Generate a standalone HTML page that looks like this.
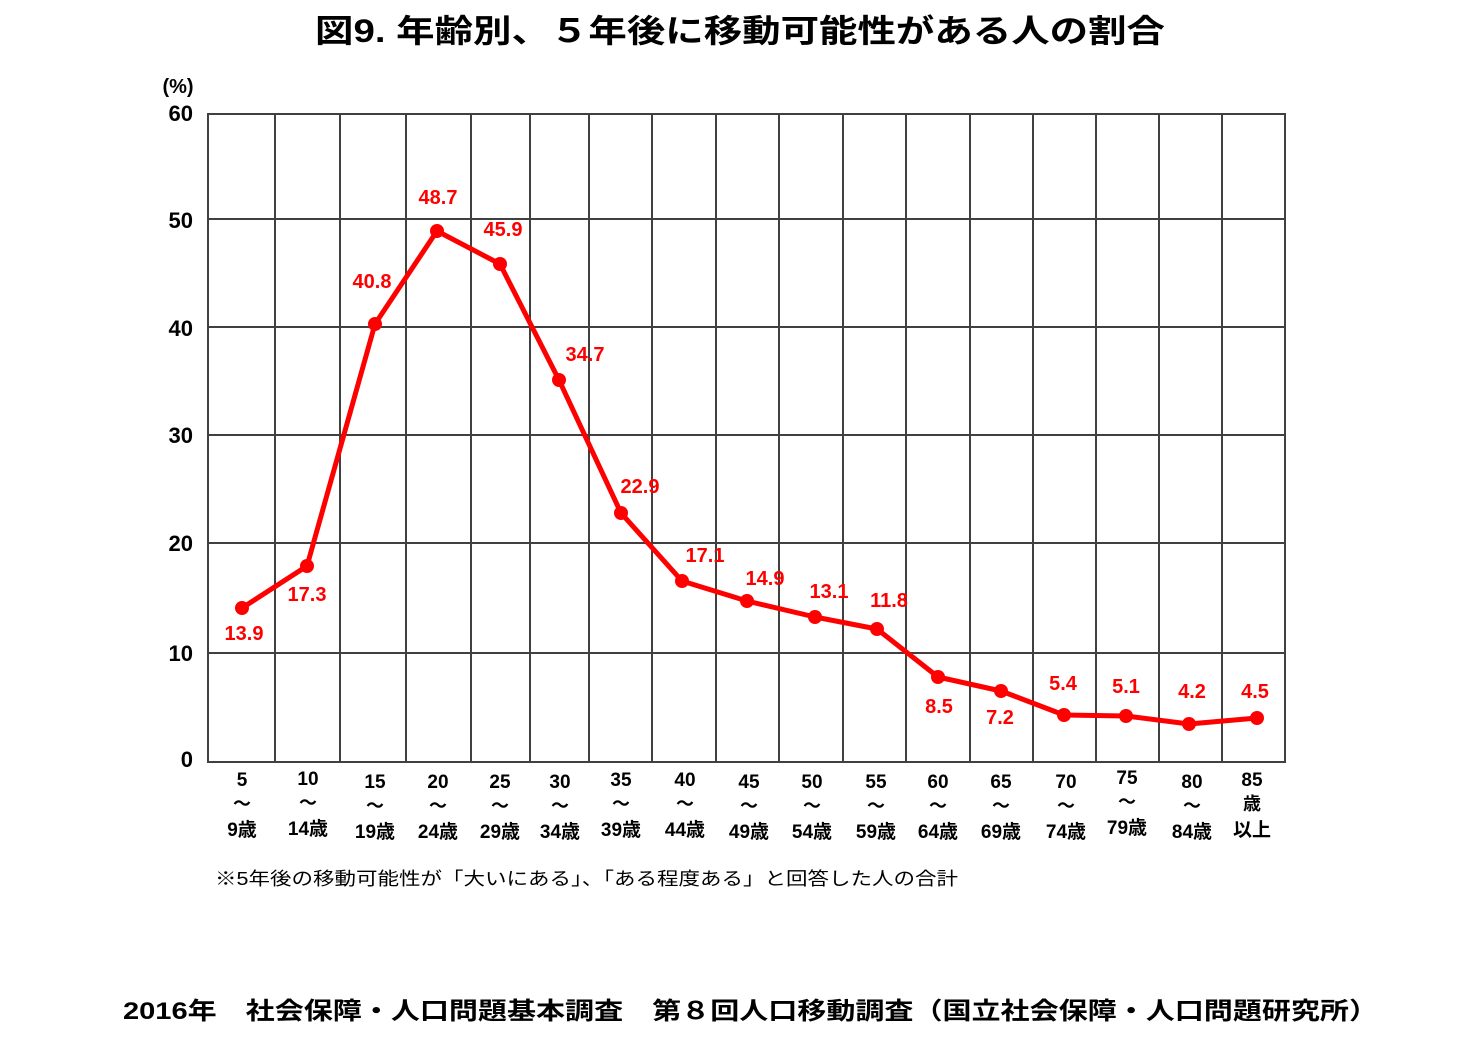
<!DOCTYPE html>
<html><head><meta charset="utf-8"><style>
body{margin:0;background:#fff;}
svg text{font-family:"Liberation Sans","Noto Sans CJK JP",sans-serif;font-weight:bold;}
</style></head><body>
<svg width="1483" height="1049" xmlns="http://www.w3.org/2000/svg">
<text x="315" y="42" font-size="32" textLength="850" lengthAdjust="spacingAndGlyphs" fill="#000">図9.  年齢別、５年後に移動可能性がある人の割合</text>
<text x="178" y="93" font-size="20" text-anchor="middle">(%)</text>
<g stroke="#404040" stroke-width="2" fill="none">
<rect x="208" y="114" width="1077" height="648"/>
<line x1="208" y1="219" x2="1285" y2="219"/>
<line x1="208" y1="327" x2="1285" y2="327"/>
<line x1="208" y1="435" x2="1285" y2="435"/>
<line x1="208" y1="543" x2="1285" y2="543"/>
<line x1="208" y1="653" x2="1285" y2="653"/>
<path d="M275 114V762M340 114V762M406 114V762M471 114V762M530 114V762M589 114V762M652 114V762M716 114V762M779 114V762M843 114V762M906 114V762M970 114V762M1033 114V762M1096 114V762M1159 114V762M1222 114V762"/>
</g>
<g font-size="22" text-anchor="end">
<text x="193" y="121">60</text><text x="193" y="228">50</text><text x="193" y="336">40</text>
<text x="193" y="443">30</text><text x="193" y="551">20</text><text x="193" y="661">10</text><text x="193" y="767">0</text>
</g>
<polyline fill="none" stroke="#f00" stroke-width="5" stroke-linejoin="round" points="242,608 307,566 375,324 437,231 500,264 559,380 621,513 682,581 747,601 815,617 877,629 938,677 1001,691 1064,715 1126,716 1189,724 1257,718"/>
<g fill="#f00">
<circle cx="242" cy="608" r="7"/><circle cx="307" cy="566" r="7"/><circle cx="375" cy="324" r="7"/><circle cx="437" cy="231" r="7"/><circle cx="500" cy="264" r="7"/><circle cx="559" cy="380" r="7"/><circle cx="621" cy="513" r="7"/><circle cx="682" cy="581" r="7"/><circle cx="747" cy="601" r="7"/><circle cx="815" cy="617" r="7"/><circle cx="877" cy="629" r="7"/><circle cx="938" cy="677" r="7"/><circle cx="1001" cy="691" r="7"/><circle cx="1064" cy="715" r="7"/><circle cx="1126" cy="716" r="7"/><circle cx="1189" cy="724" r="7"/><circle cx="1257" cy="718" r="7"/>
</g>
<g font-size="20" fill="#f00" text-anchor="middle">
<text x="244" y="640">13.9</text><text x="307" y="601">17.3</text><text x="372" y="288">40.8</text><text x="438" y="204">48.7</text><text x="503" y="236">45.9</text><text x="585" y="361">34.7</text><text x="640" y="493">22.9</text><text x="705" y="562">17.1</text><text x="765" y="585">14.9</text><text x="829" y="598">13.1</text><text x="889" y="607">11.8</text><text x="939" y="713">8.5</text><text x="1000" y="724">7.2</text><text x="1063" y="690">5.4</text><text x="1126" y="693">5.1</text><text x="1192" y="698">4.2</text><text x="1255" y="698">4.5</text>
</g>
<g font-size="19" text-anchor="middle" fill="#000">
<text x="242" y="786">5</text><text x="308" y="785">10</text><text x="375" y="788">15</text><text x="438" y="788">20</text><text x="500" y="788">25</text><text x="560" y="788">30</text><text x="621" y="786">35</text><text x="685" y="786">40</text><text x="749" y="788">45</text><text x="812" y="788">50</text><text x="876" y="788">55</text><text x="938" y="788">60</text><text x="1001" y="788">65</text><text x="1066" y="788">70</text><text x="1127" y="784">75</text><text x="1192" y="788">80</text><text x="1252" y="786">85</text>
<g font-size="18">
<text x="242" y="810">～</text><text x="308" y="809">～</text><text x="375" y="812">～</text><text x="438" y="812">～</text><text x="500" y="812">～</text><text x="560" y="812">～</text><text x="621" y="810">～</text><text x="685" y="810">～</text><text x="749" y="812">～</text><text x="812" y="812">～</text><text x="876" y="812">～</text><text x="938" y="812">～</text><text x="1001" y="812">～</text><text x="1066" y="812">～</text><text x="1127" y="808">～</text><text x="1192" y="812">～</text><text x="1252" y="810">歳</text>
</g>
<text x="242" y="836">9歳</text><text x="308" y="835">14歳</text><text x="375" y="838">19歳</text><text x="438" y="838">24歳</text><text x="500" y="838">29歳</text><text x="560" y="838">34歳</text><text x="621" y="836">39歳</text><text x="685" y="836">44歳</text><text x="749" y="838">49歳</text><text x="812" y="838">54歳</text><text x="876" y="838">59歳</text><text x="938" y="838">64歳</text><text x="1001" y="838">69歳</text><text x="1066" y="838">74歳</text><text x="1127" y="834">79歳</text><text x="1192" y="838">84歳</text><text x="1252" y="836">以上</text>
</g>
<text x="215" y="885" font-size="18" textLength="743" lengthAdjust="spacingAndGlyphs" style="font-weight:normal">※5年後の移動可能性が「大いにある」、「ある程度ある」と回答した人の合計</text>
<text x="123" y="1019" font-size="24" textLength="1255" lengthAdjust="spacingAndGlyphs">2016年　社会保障・人口問題基本調査　第８回人口移動調査（国立社会保障・人口問題研究所）</text>
</svg>
</body></html>
